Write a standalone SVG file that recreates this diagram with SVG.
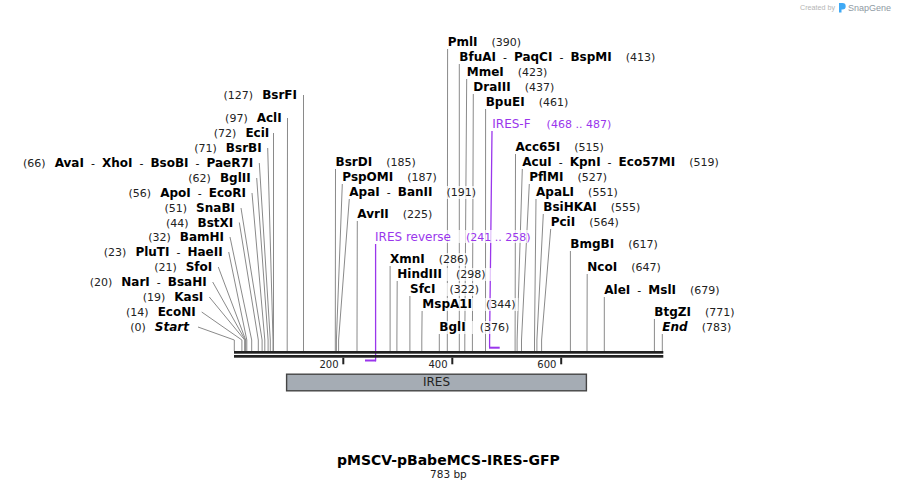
<svg xmlns="http://www.w3.org/2000/svg" width="897" height="490" viewBox="0 0 897 490">
<style>
.ln{stroke:#8a8a8a;stroke-width:1;fill:none}
.pl{stroke:#9a36ec;stroke-width:1.3;fill:none}
.nm{font-family:"DejaVu Sans",Verdana,sans-serif;font-size:12px;font-weight:bold;fill:#000}
.nu{font-family:"DejaVu Sans",Verdana,sans-serif;font-size:11px;font-weight:normal;font-style:normal;fill:#222}
.sp{font-weight:normal;font-size:11px}
.it{font-style:italic}
.pt{font-family:"DejaVu Sans",Verdana,sans-serif;font-size:12px;fill:#9a36ec}
.pn{font-size:11px}
.bg{fill:#fff;fill-opacity:0.72}
.tk{fill:#222}
</style>
<rect width="897" height="490" fill="#fff"/>
<g id="logo">
<text x="800" y="10" font-family="Liberation Sans,Arial,sans-serif" font-size="7.2" fill="#b5b5b5">Created by</text>
<path d="M839 3 h3.5 a3.2 3.2 0 0 1 0 6.4 h-1 v3.2 h-2.5 z" fill="#3fa9f5"/>
<text x="848" y="11" font-family="Liberation Sans,Arial,sans-serif" font-size="9" fill="#8e99a3">SnapGene</text>
</g>
<g id="connectors">
<polyline class="ln" points="303.5,95 303.5,340 303.5,351"/>
<polyline class="ln" points="287.5,118 287.2,340 287.2,351"/>
<polyline class="ln" points="273.5,133 273.5,340 273.5,351"/>
<polyline class="ln" points="267.7,148 273,340 273,351"/>
<polyline class="ln" points="259.3,163 270.3,340 270.3,351"/>
<polyline class="ln" points="256.7,178 268.1,340 268.1,351"/>
<polyline class="ln" points="252,193 264.8,340 264.8,351"/>
<polyline class="ln" points="241,208 262.1,340 262.1,351"/>
<polyline class="ln" points="239.3,222.5 258.3,340 258.3,351"/>
<polyline class="ln" points="230,237 251.7,340 251.7,351"/>
<polyline class="ln" points="228.7,252 246.8,340 246.8,351"/>
<polyline class="ln" points="218.3,267 245.7,340 245.7,351"/>
<polyline class="ln" points="212.7,282 245.2,340 245.2,351"/>
<polyline class="ln" points="209.3,297 244.7,340 244.7,351"/>
<polyline class="ln" points="201.7,312 241.9,340 241.9,351"/>
<polyline class="ln" points="198,327 234.3,340 234.3,351"/>
<polyline class="ln" points="447.6,49 447.3,340 447.3,351"/>
<polyline class="ln" points="459.3,64 459.3,340 459.3,351"/>
<polyline class="ln" points="466.7,79 464.8,340 464.8,351"/>
<polyline class="ln" points="473.3,94 472.4,340 472.4,351"/>
<polyline class="ln" points="485.6,109 485.5,340 485.5,351"/>
<polyline class="ln" points="515.5,154 515.1,340 515.1,351"/>
<polyline class="ln" points="335.5,169 335.3,340 335.3,351"/>
<polyline class="ln" points="522.3,169 517.1,340 517.1,351"/>
<polyline class="ln" points="342.3,184 336.4,340 336.4,351"/>
<polyline class="ln" points="529.3,184 521.5,340 521.5,351"/>
<polyline class="ln" points="349.3,199 338.6,340 338.6,351"/>
<polyline class="ln" points="536,199 534.5,340 534.5,351"/>
<polyline class="ln" points="543.3,214 536.9,340 536.9,351"/>
<polyline class="ln" points="357.3,221 357,340 357,351"/>
<polyline class="ln" points="550.7,229 541.6,340 541.6,351"/>
<polyline class="ln" points="570.4,251 570.4,340 570.4,351"/>
<polyline class="ln" points="390.1,266 390.1,340 390.1,351"/>
<polyline class="ln" points="587.2,274 587,340 587,351"/>
<polyline class="ln" points="397.2,281 396.9,340 396.9,351"/>
<polyline class="ln" points="409.9,296 409.9,340 409.9,351"/>
<polyline class="ln" points="604.3,297 604.3,340 604.3,351"/>
<polyline class="ln" points="422.1,311 421.8,340 421.8,351"/>
<polyline class="ln" points="654.4,319 654.4,340 654.4,351"/>
<polyline class="ln" points="439.3,334 439.3,340 439.3,351"/>
<polyline class="ln" points="662.3,334 662.3,340 662.3,351"/>
<polyline class="pl" points="492,131 489.6,340 489.6,347"/>
<rect x="489" y="346.7" width="10.7" height="2" fill="#9a36ec"/>
<line class="pl" x1="375.6" y1="244" x2="375.6" y2="361.3"/>
<rect x="365" y="359.5" width="11" height="2" fill="#9a36ec"/>
</g>
<g id="backbone">
<rect x="234" y="351" width="429.3" height="2.7" fill="#222"/>
<rect x="234" y="355" width="429.3" height="2.7" fill="#222"/>
<rect class="tk" x="342.3" y="357.7" width="2" height="6.6"/>
<rect class="tk" x="451.3" y="357.7" width="2" height="6.6"/>
<rect class="tk" x="560.2" y="357.7" width="2" height="6.6"/>
<text class="nu" style="font-size:10px" x="338.5" y="367.5" text-anchor="end">200</text>
<text class="nu" style="font-size:10px" x="447.5" y="367.5" text-anchor="end">400</text>
<text class="nu" style="font-size:10px" x="556.4" y="367.5" text-anchor="end">600</text>
</g>
<g id="feature-IRES">
<rect x="286.6" y="374.2" width="299.8" height="16.6" fill="#a5acb4" stroke="#444" stroke-width="1.4"/>
<text class="nu" style="font-size:12px" x="436.5" y="386.3" text-anchor="middle">IRES</text>
</g>
<g id="BsrFI"><text class="nm" x="297" y="99" text-anchor="end"><tspan class="nu">(127)</tspan><tspan dx="9">BsrFI</tspan></text></g>
<g id="AclI"><text class="nm" x="281.7" y="122" text-anchor="end"><tspan class="nu">(97)</tspan><tspan dx="9">AclI</tspan></text></g>
<g id="EciI"><text class="nm" x="269.3" y="137" text-anchor="end"><tspan class="nu">(72)</tspan><tspan dx="9">EciI</tspan></text></g>
<g id="BsrBI"><text class="nm" x="261.7" y="152" text-anchor="end"><tspan class="nu">(71)</tspan><tspan dx="9">BsrBI</tspan></text></g>
<g id="AvaI"><text class="nm" x="253.3" y="167" text-anchor="end"><tspan class="nu">(66)</tspan><tspan dx="9">AvaI</tspan><tspan class="sp" dx="7">-</tspan><tspan dx="7">XhoI</tspan><tspan class="sp" dx="7">-</tspan><tspan dx="7">BsoBI</tspan><tspan class="sp" dx="7">-</tspan><tspan dx="7">PaeR7I</tspan></text></g>
<g id="BglII"><text class="nm" x="250.7" y="182" text-anchor="end"><tspan class="nu">(62)</tspan><tspan dx="9">BglII</tspan></text></g>
<g id="ApoI"><text class="nm" x="246" y="197" text-anchor="end"><tspan class="nu">(56)</tspan><tspan dx="9">ApoI</tspan><tspan class="sp" dx="7">-</tspan><tspan dx="7">EcoRI</tspan></text></g>
<g id="SnaBI"><text class="nm" x="235" y="212" text-anchor="end"><tspan class="nu">(51)</tspan><tspan dx="9">SnaBI</tspan></text></g>
<g id="BstXI"><text class="nm" x="233.3" y="226.5" text-anchor="end"><tspan class="nu">(44)</tspan><tspan dx="9">BstXI</tspan></text></g>
<g id="BamHI"><text class="nm" x="224" y="241" text-anchor="end"><tspan class="nu">(32)</tspan><tspan dx="9">BamHI</tspan></text></g>
<g id="PluTI"><text class="nm" x="222.7" y="256" text-anchor="end"><tspan class="nu">(23)</tspan><tspan dx="9">PluTI</tspan><tspan class="sp" dx="7">-</tspan><tspan dx="7">HaeII</tspan></text></g>
<g id="SfoI"><text class="nm" x="212.3" y="271" text-anchor="end"><tspan class="nu">(21)</tspan><tspan dx="9">SfoI</tspan></text></g>
<g id="NarI"><text class="nm" x="206.7" y="286" text-anchor="end"><tspan class="nu">(20)</tspan><tspan dx="9">NarI</tspan><tspan class="sp" dx="7">-</tspan><tspan dx="7">BsaHI</tspan></text></g>
<g id="KasI"><text class="nm" x="203.3" y="301" text-anchor="end"><tspan class="nu">(19)</tspan><tspan dx="9">KasI</tspan></text></g>
<g id="EcoNI"><text class="nm" x="195.7" y="316" text-anchor="end"><tspan class="nu">(14)</tspan><tspan dx="9">EcoNI</tspan></text></g>
<g id="Start"><text class="nm" x="189" y="331" text-anchor="end"><tspan class="nu">(0)</tspan><tspan class="it" dx="9">Start</tspan></text></g>
<g id="PmlI"><rect class="bg" x="446.7" y="36" width="77" height="13"/><text class="nm" x="447.7" y="46">PmlI<tspan class="nu" dx="14">(390)</tspan></text></g>
<g id="BfuAI"><rect class="bg" x="458.3" y="51" width="190" height="13"/><text class="nm" x="459.3" y="61">BfuAI<tspan class="sp" dx="7">-</tspan><tspan dx="7">PaqCI</tspan><tspan class="sp" dx="7">-</tspan><tspan dx="7">BspMI</tspan><tspan class="nu" dx="14">(413)</tspan></text></g>
<g id="MmeI"><rect class="bg" x="465.7" y="66" width="83" height="13"/><text class="nm" x="466.7" y="76">MmeI<tspan class="nu" dx="14">(423)</tspan></text></g>
<g id="DraIII"><rect class="bg" x="472.3" y="81" width="90" height="13"/><text class="nm" x="473.3" y="91">DraIII<tspan class="nu" dx="14">(437)</tspan></text></g>
<g id="BpuEI"><rect class="bg" x="484.7" y="96" width="86" height="13"/><text class="nm" x="485.7" y="106">BpuEI<tspan class="nu" dx="14">(461)</tspan></text></g>
<g id="IRES-F"><rect class="bg" x="491.3" y="117" width="124" height="13"/><text class="pt" x="492.3" y="127.5">IRES-F<tspan class="pn" dx="16">(468 .. 487)</tspan></text></g>
<g id="Acc65I"><rect class="bg" x="514.5" y="141" width="94" height="13"/><text class="nm" x="515.5" y="151">Acc65I<tspan class="nu" dx="14">(515)</tspan></text></g>
<g id="BsrDI"><rect class="bg" x="334.5" y="156" width="83" height="13"/><text class="nm" x="335.5" y="166">BsrDI<tspan class="nu" dx="14">(185)</tspan></text></g>
<g id="AcuI"><rect class="bg" x="521.3" y="156" width="208" height="13"/><text class="nm" x="522.3" y="166">AcuI<tspan class="sp" dx="7">-</tspan><tspan dx="7">KpnI</tspan><tspan class="sp" dx="7">-</tspan><tspan dx="7">Eco57MI</tspan><tspan class="nu" dx="14">(519)</tspan></text></g>
<g id="PspOMI"><rect class="bg" x="341.3" y="171" width="98" height="13"/><text class="nm" x="342.3" y="181">PspOMI<tspan class="nu" dx="14">(187)</tspan></text></g>
<g id="PflMI"><rect class="bg" x="528.3" y="171" width="80" height="13"/><text class="nm" x="529.3" y="181">PflMI<tspan class="nu" dx="14">(527)</tspan></text></g>
<g id="ApaI"><rect class="bg" x="348.3" y="186" width="134" height="13"/><text class="nm" x="349.3" y="196">ApaI<tspan class="sp" dx="7">-</tspan><tspan dx="7">BanII</tspan><tspan class="nu" dx="14">(191)</tspan></text></g>
<g id="ApaLI"><rect class="bg" x="535" y="186" width="87" height="13"/><text class="nm" x="536" y="196">ApaLI<tspan class="nu" dx="14">(551)</tspan></text></g>
<g id="BsiHKAI"><rect class="bg" x="542.3" y="201" width="102" height="13"/><text class="nm" x="543.3" y="211">BsiHKAI<tspan class="nu" dx="14">(555)</tspan></text></g>
<g id="AvrII"><rect class="bg" x="356.3" y="208" width="82" height="13"/><text class="nm" x="357.3" y="218">AvrII<tspan class="nu" dx="14">(225)</tspan></text></g>
<g id="PciI"><rect class="bg" x="549.7" y="216" width="70" height="13"/><text class="nm" x="550.7" y="226">PciI<tspan class="nu" dx="14">(564)</tspan></text></g>
<g id="IRES-reverse"><rect class="bg" x="374" y="230" width="159" height="13"/><text class="pt" x="375" y="240.5">IRES reverse<tspan class="pn" dx="15">(241 .. 258)</tspan></text></g>
<g id="BmgBI"><rect class="bg" x="569.3" y="238" width="91" height="13"/><text class="nm" x="570.3" y="248">BmgBI<tspan class="nu" dx="14">(617)</tspan></text></g>
<g id="XmnI"><rect class="bg" x="389" y="253" width="83" height="13"/><text class="nm" x="390" y="263">XmnI<tspan class="nu" dx="14">(286)</tspan></text></g>
<g id="NcoI"><rect class="bg" x="586.3" y="261" width="76" height="13"/><text class="nm" x="587.3" y="271">NcoI<tspan class="nu" dx="14">(647)</tspan></text></g>
<g id="HindIII"><rect class="bg" x="396.3" y="268" width="97" height="13"/><text class="nm" x="397.3" y="278">HindIII<tspan class="nu" dx="14">(298)</tspan></text></g>
<g id="SfcI"><rect class="bg" x="409" y="283" width="73" height="13"/><text class="nm" x="410" y="293">SfcI<tspan class="nu" dx="14">(322)</tspan></text></g>
<g id="AleI"><rect class="bg" x="603.3" y="283.5" width="118" height="13"/><text class="nm" x="604.3" y="293.5">AleI<tspan class="sp" dx="7">-</tspan><tspan dx="7">MslI</tspan><tspan class="nu" dx="14">(679)</tspan></text></g>
<g id="MspA1I"><rect class="bg" x="421.3" y="298" width="97" height="13"/><text class="nm" x="422.3" y="308">MspA1I<tspan class="nu" dx="14">(344)</tspan></text></g>
<g id="BtgZI"><rect class="bg" x="653.3" y="306" width="81" height="13"/><text class="nm" x="654.3" y="316">BtgZI<tspan class="nu" dx="14">(771)</tspan></text></g>
<g id="BglI"><rect class="bg" x="438.3" y="321" width="72" height="13"/><text class="nm" x="439.3" y="331">BglI<tspan class="nu" dx="14">(376)</tspan></text></g>
<g id="End"><rect class="bg" x="661.3" y="321" width="72" height="13"/><text class="nm" x="662.3" y="331"><tspan class="it">End</tspan><tspan class="nu" dx="14">(783)</tspan></text></g>
<g id="title">
<text x="448.4" y="465" text-anchor="middle" font-family="DejaVu Sans,Verdana,sans-serif" font-size="14" font-weight="bold" fill="#000">pMSCV-pBabeMCS-IRES-GFP</text>
<text x="448.4" y="478" text-anchor="middle" font-family="DejaVu Sans,Verdana,sans-serif" font-size="10.5" fill="#222">783 bp</text>
</g>
</svg>
